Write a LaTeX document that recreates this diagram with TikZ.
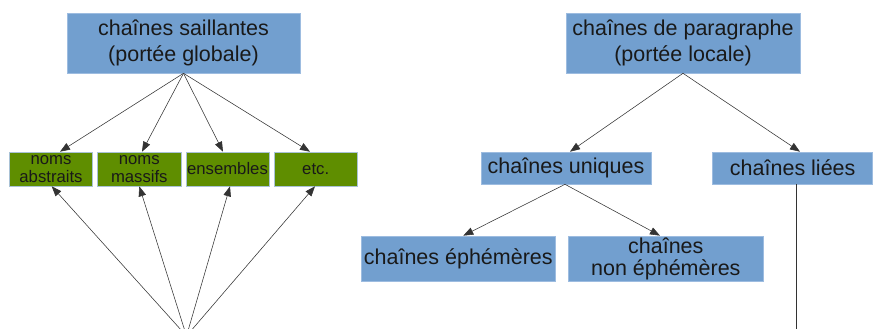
\documentclass[tikz,border=0pt]{standalone}
\usepackage{fontspec}
\setmainfont{Liberation Sans}
\usetikzlibrary{arrows.meta,calc}
\definecolor{boxblue}{HTML}{729FCF}
\definecolor{blueedge}{HTML}{9DBCE0}
\definecolor{boxgreen}{HTML}{5F8E00}
\definecolor{greenedge}{HTML}{A9C2D6}
\definecolor{linegray}{HTML}{333333}
\tikzset{
  bluebox/.style={draw=blueedge, line width=0.6pt, fill=boxblue, inner sep=0pt, align=center,
    font=\fontsize{21.5}{25.7}\selectfont, text=black!90},
  greenbox/.style={draw=greenedge, line width=0.6pt, fill=boxgreen, inner sep=0pt, align=center,
    minimum width=83.4pt, minimum height=34pt,
    font=\fontsize{16.7}{17.7}\selectfont, text=black!90},
  conn/.style={draw=linegray, line width=0.55pt, -{Triangle[length=10pt,width=7.5pt]}},
  plainconn/.style={draw=linegray, line width=0.55pt}
}
\begin{document}
\begin{tikzpicture}[x=1pt,y=-1pt]
\useasboundingbox (0,0) rectangle (879,329);
% left tree
\node[bluebox, minimum width=233pt, minimum height=60pt] (sal) at (183.5,43) {chaînes saillantes\\(portée globale)};
\node[greenbox] (g1) at (51,169) {noms\\abstraits};
\node[greenbox] (g2) at (139.3,169) {noms\\massifs};
\node[greenbox] (g3) at (227.5,169) {ensembles};
\node[greenbox] (g4) at (315.7,169) {etc.};
\coordinate (src) at (186.5,336);
\draw[conn] (sal.south) -- ([xshift=9pt]g1.north);
\draw[conn] (sal.south) -- ([xshift=2.7pt]g2.north);
\draw[conn] (sal.south) -- ([xshift=-4.5pt]g3.north);
\draw[conn] (sal.south) -- ([xshift=-5.7pt]g4.north);
\draw[conn] (src) -- ([xshift=0.7pt]g1.south);
\draw[conn] (src) -- (g2.south);
\draw[conn] (src) -- ([xshift=2.5pt]g3.south);
\draw[conn] (src) -- ([xshift=-0.7pt]g4.south);
% right tree
\node[bluebox, minimum width=234pt, minimum height=60pt] (para) at (683,43) {chaînes de paragraphe\\(portée locale)};
\node[bluebox, minimum width=170pt, minimum height=32pt] (uniq) at (566,168) {chaînes uniques};
\node[bluebox, minimum width=160pt, minimum height=32pt] (lie) at (792.7,168) {chaînes liées};
\node[bluebox, minimum width=194.7pt, minimum height=45.7pt] (eph) at (458.3,258.8) {chaînes éphémères};
\node[bluebox, minimum width=195pt, minimum height=45.7pt, font=\fontsize{21.5}{22.5}\selectfont] (neph) at (665.8,258.8) {chaînes\\non éphémères};
\coordinate (lieend) at (796.7,336);
\draw[conn] (para.south) -- ([xshift=4pt]uniq.north);
\draw[conn] (para.south) -- ([xshift=7.3pt]lie.north);
\draw[conn] ([xshift=-1pt]uniq.south) -- ([xshift=5pt]eph.north);
\draw[conn] ([xshift=-1pt]uniq.south) -- ([xshift=-5.8pt]neph.north);
\draw[plainconn] ([xshift=4pt]lie.south) -- (lieend);
\end{tikzpicture}
\end{document}
